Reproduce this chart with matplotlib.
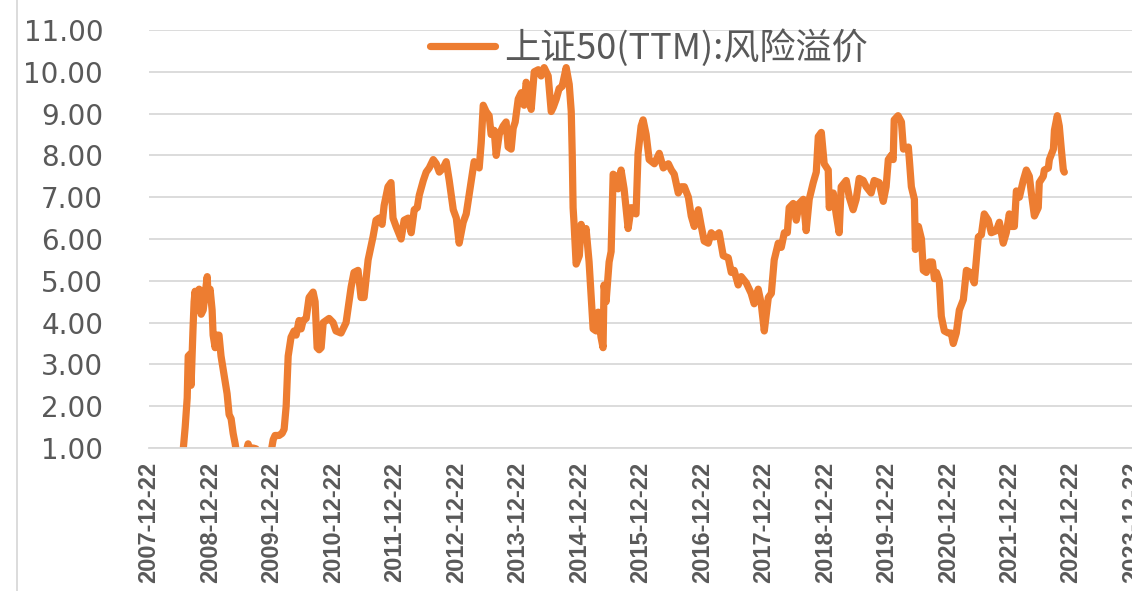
import pandas as pd
import matplotlib
matplotlib.use("Agg")
import matplotlib.pyplot as plt
from matplotlib.lines import Line2D
from matplotlib.ticker import FormatStrFormatter

# SSE 50 (TTM) risk premium, weekly-ish samples
dates = [
    "2008-06-24", "2008-07-12", "2008-07-24", "2008-08-05", "2008-08-11", "2008-08-23", "2008-08-28",
    "2008-09-09", "2008-09-15", "2008-09-21", "2008-10-03", "2008-10-15", "2008-10-27", "2008-11-08",
    "2008-11-20", "2008-12-02", "2008-12-07", "2008-12-19", "2008-12-31", "2009-01-06", "2009-01-18",
    "2009-01-30", "2009-02-10", "2009-02-22", "2009-03-06", "2009-03-18", "2009-03-30", "2009-04-11",
    "2009-04-23", "2009-05-05", "2009-05-17", "2009-05-28", "2009-06-21", "2009-07-21", "2009-08-02",
    "2009-08-14", "2009-08-31", "2009-09-18", "2009-10-12", "2009-11-17", "2009-12-16", "2009-12-29",
    "2010-01-09", "2010-02-02", "2010-02-20", "2010-03-04", "2010-03-16", "2010-03-22", "2010-03-28",
    "2010-04-14", "2010-05-02", "2010-05-14", "2010-06-01", "2010-06-13", "2010-06-25", "2010-07-13",
    "2010-07-30", "2010-08-23", "2010-09-04", "2010-09-16", "2010-09-28", "2010-10-10", "2010-10-22",
    "2010-11-26", "2010-12-20", "2011-01-06", "2011-02-05", "2011-03-07", "2011-04-06", "2011-04-23",
    "2011-05-17", "2011-06-04", "2011-06-22", "2011-07-16", "2011-08-14", "2011-09-01", "2011-09-19",
    "2011-10-07", "2011-10-19", "2011-11-11", "2011-11-29", "2011-12-11", "2011-12-29", "2012-01-28",
    "2012-02-15", "2012-03-10", "2012-03-28", "2012-04-15", "2012-05-03", "2012-05-15", "2012-06-08",
    "2012-06-25", "2012-07-13", "2012-08-06", "2012-08-24", "2012-09-11", "2012-10-04", "2012-10-22",
    "2012-11-09", "2012-12-03", "2012-12-21", "2013-01-07", "2013-01-31", "2013-02-18", "2013-03-07",
    "2013-03-19", "2013-04-06", "2013-05-06", "2013-05-18", "2013-05-30", "2013-06-16", "2013-07-04",
    "2013-07-16", "2013-08-03", "2013-08-15", "2013-09-02", "2013-09-25", "2013-10-13", "2013-10-25",
    "2013-11-12", "2013-11-24", "2013-12-06", "2013-12-24", "2014-01-11", "2014-01-28", "2014-02-09",
    "2014-02-27", "2014-03-11", "2014-03-29", "2014-04-22", "2014-05-09", "2014-05-27", "2014-06-20",
    "2014-07-08", "2014-07-20", "2014-08-07", "2014-08-24", "2014-09-11", "2014-10-05", "2014-10-23",
    "2014-11-04", "2014-11-10", "2014-11-15", "2014-11-21", "2014-12-03", "2014-12-22", "2015-01-02",
    "2015-01-14", "2015-01-31", "2015-02-18", "2015-03-02", "2015-03-14", "2015-04-01", "2015-04-13",
    "2015-04-30", "2015-05-12", "2015-05-18", "2015-05-30", "2015-06-17", "2015-06-29", "2015-07-11",
    "2015-07-29", "2015-08-09", "2015-08-27", "2015-09-14", "2015-10-08", "2015-10-26", "2015-11-24",
    "2015-12-06", "2015-12-24", "2016-01-05", "2016-01-23", "2016-02-10", "2016-03-12", "2016-04-10",
    "2016-05-04", "2016-06-03", "2016-06-21", "2016-07-08", "2016-08-01", "2016-08-19", "2016-09-06",
    "2016-09-30", "2016-10-17", "2016-11-04", "2016-11-28", "2016-12-16", "2017-01-02", "2017-01-26",
    "2017-02-13", "2017-03-03", "2017-04-01", "2017-04-25", "2017-05-25", "2017-06-12", "2017-06-29",
    "2017-07-23", "2017-08-10", "2017-09-09", "2017-10-08", "2017-10-26", "2017-11-19", "2017-12-07",
    "2017-12-25", "2018-01-18", "2018-02-05", "2018-02-22", "2018-03-18", "2018-04-05", "2018-04-23",
    "2018-05-11", "2018-05-22", "2018-06-15", "2018-07-03", "2018-07-21", "2018-08-14", "2018-08-31",
    "2018-09-18", "2018-10-12", "2018-10-30", "2018-11-11", "2018-11-29", "2018-12-16", "2019-01-09",
    "2019-01-15", "2019-02-08", "2019-02-25", "2019-03-15", "2019-03-27", "2019-04-26", "2019-05-14",
    "2019-06-06", "2019-06-24", "2019-07-12", "2019-08-05", "2019-08-23", "2019-09-21", "2019-10-09",
    "2019-11-08", "2019-12-02", "2019-12-19", "2020-01-01", "2020-01-18", "2020-01-30", "2020-02-05",
    "2020-02-28", "2020-03-19", "2020-03-31", "2020-04-29", "2020-05-05", "2020-05-17", "2020-06-04",
    "2020-06-10", "2020-06-28", "2020-07-16", "2020-07-27", "2020-08-14", "2020-09-01", "2020-09-19",
    "2020-10-01", "2020-10-13", "2020-10-30", "2020-11-11", "2020-11-29", "2020-12-23", "2021-01-09",
    "2021-01-21", "2021-02-08", "2021-02-26", "2021-03-22", "2021-04-09", "2021-05-02", "2021-05-26",
    "2021-06-19", "2021-07-07", "2021-07-24", "2021-08-17", "2021-09-04", "2021-10-04", "2021-10-22",
    "2021-11-14", "2021-12-02", "2021-12-20", "2022-01-01", "2022-01-19", "2022-01-31", "2022-02-18",
    "2022-03-13", "2022-03-31", "2022-04-18", "2022-04-30", "2022-05-18", "2022-06-10", "2022-06-16",
    "2022-07-10", "2022-07-16", "2022-08-09", "2022-08-15", "2022-09-08", "2022-09-14", "2022-10-01",
    "2022-10-13", "2022-10-25", "2022-11-06", "2022-11-12",
]

premium = [
    0.60, 0.95, 1.50, 2.20, 3.20, 3.25, 2.50,
    3.90, 4.50, 4.75, 4.30, 4.80, 4.20, 4.30,
    4.70, 5.10, 4.60, 4.80, 4.30, 3.70, 3.40,
    3.70, 3.70, 3.20, 2.90, 2.60, 2.30, 1.80,
    1.70, 1.35, 1.10, 0.80, 0.60, 0.90, 1.10,
    0.95, 1.00, 0.98, 0.70, 0.60, 0.90, 1.20,
    1.30, 1.30, 1.35, 1.45, 2.00, 2.60, 3.20,
    3.65, 3.80, 3.70, 4.05, 3.85, 4.05, 4.10,
    4.60, 4.73, 4.50, 3.40, 3.35, 3.40, 4.00,
    4.10, 4.00, 3.80, 3.75, 4.00, 4.85, 5.20,
    5.25, 4.60, 4.60, 5.50, 6.05, 6.45, 6.50,
    6.35, 6.80, 7.25, 7.35, 6.50, 6.30, 6.00,
    6.45, 6.50, 6.15, 6.70, 6.75, 7.05, 7.40,
    7.60, 7.70, 7.90, 7.80, 7.60, 7.70, 7.85,
    7.40, 6.70, 6.50, 5.90, 6.40, 6.60, 7.05,
    7.35, 7.85, 7.70, 8.30, 9.20, 9.05, 8.95,
    8.50, 8.60, 8.00, 8.50, 8.70, 8.80, 8.20,
    8.15, 8.65, 8.80, 9.35, 9.50, 9.20, 9.75,
    9.50, 9.10, 10.00, 10.05, 9.90, 10.10, 9.90,
    9.05, 9.15, 9.35, 9.60, 9.65, 10.10, 9.70,
    9.05, 8.00, 6.75, 6.35, 5.40, 5.60, 6.35,
    6.00, 6.25, 5.45, 4.65, 3.85, 3.80, 4.25,
    3.65, 3.40, 4.90, 4.50, 5.45, 5.70, 7.55,
    7.50, 7.20, 7.65, 7.20, 6.25, 6.75, 6.60,
    8.05, 8.70, 8.85, 8.50, 7.90, 7.80, 8.05,
    7.70, 7.80, 7.65, 7.55, 7.10, 7.25, 7.25,
    7.00, 6.55, 6.30, 6.70, 6.30, 5.95, 5.90,
    6.15, 6.05, 6.15, 5.60, 5.55, 5.20, 5.25,
    4.90, 5.10, 4.95, 4.70, 4.45, 4.80, 4.45,
    3.80, 4.60, 4.70, 5.50, 5.90, 5.80, 6.15,
    6.15, 6.75, 6.85, 6.45, 6.85, 6.95, 6.20,
    6.95, 7.35, 7.60, 8.45, 8.55, 7.80, 7.65,
    6.75, 7.10, 6.60, 6.15, 7.25, 7.40, 7.00,
    6.70, 6.95, 7.45, 7.40, 7.25, 7.10, 7.40,
    7.35, 6.90, 7.25, 7.90, 8.00, 7.90, 8.85,
    8.95, 8.80, 8.15, 8.20, 7.90, 7.25, 6.95,
    5.75, 6.30, 6.00, 5.25, 5.20, 5.45, 5.45,
    5.05, 5.20, 5.00, 4.15, 3.80, 3.75, 3.75,
    3.50, 3.75, 4.30, 4.55, 5.25, 5.20, 4.95,
    6.05, 6.10, 6.60, 6.45, 6.15, 6.20, 6.40,
    5.90, 6.15, 6.60, 6.30, 6.30, 7.15, 7.00,
    7.40, 7.65, 7.50, 7.10, 6.55, 6.75, 7.35,
    7.50, 7.65, 7.70, 7.90, 8.15, 8.60, 8.95,
    8.70, 8.15, 7.65, 7.60,
]

tick_labels = [f"{year}-12-22" for year in range(2007, 2024)]
y_ticks = list(range(1, 12))
series_name = "上证50(TTM):风险溢价"

line_color = "#ED7D31"
grid_color = "#D9D9D9"
text_color = "#595959"

fig = plt.figure(figsize=(11.32, 5.91), dpi=100)
fig.patch.set_facecolor("white")
ax = fig.add_axes([149 / 1132, 143 / 591, 983.5 / 1132, 418 / 591])

ax.plot(pd.to_datetime(dates), premium, color=line_color, lw=5.2,
        solid_joinstyle="round", solid_capstyle="round", label=series_name)

ticks = pd.to_datetime(tick_labels)
ax.set_xticks(ticks)
ax.set_xticklabels(tick_labels, rotation=90, fontsize=17, color=text_color,
                   family="Liberation Sans", fontweight="bold")
ax.set_xlim(ticks[0], ticks[-1])

ax.set_ylim(1, 11)
ax.set_yticks(y_ticks)
ax.yaxis.set_major_formatter(FormatStrFormatter("%.2f"))
for lbl in ax.get_yticklabels():
    lbl.set_fontsize(20)
    lbl.set_color(text_color)
    lbl.set_family("DejaVu Sans")

ax.grid(axis="y", color=grid_color, lw=1.3)
ax.set_axisbelow(True)
for side in ["left", "right", "top"]:
    ax.spines[side].set_visible(False)
ax.spines["bottom"].set_color(grid_color)
ax.spines["bottom"].set_linewidth(1.3)
ax.tick_params(axis="both", length=0)
ax.tick_params(axis="y", pad=33)
ax.tick_params(axis="x", pad=10)

leg = ax.legend(loc="center left", bbox_to_anchor=(430 / 1132, 1 - 48 / 591),
                bbox_transform=fig.transFigure, frameon=False, borderpad=0,
                borderaxespad=0, handlelength=1.8, handletextpad=0.25,
                prop={"family": ["Noto Sans CJK SC", "DejaVu Sans"], "size": 26})
for txt in leg.get_texts():
    txt.set_color(text_color)

# outer chart border on the left
fig.add_artist(Line2D([17 / 1132, 17 / 1132], [0, 1], color=grid_color, lw=1.3))

fig.savefig("out.png", dpi=100)
